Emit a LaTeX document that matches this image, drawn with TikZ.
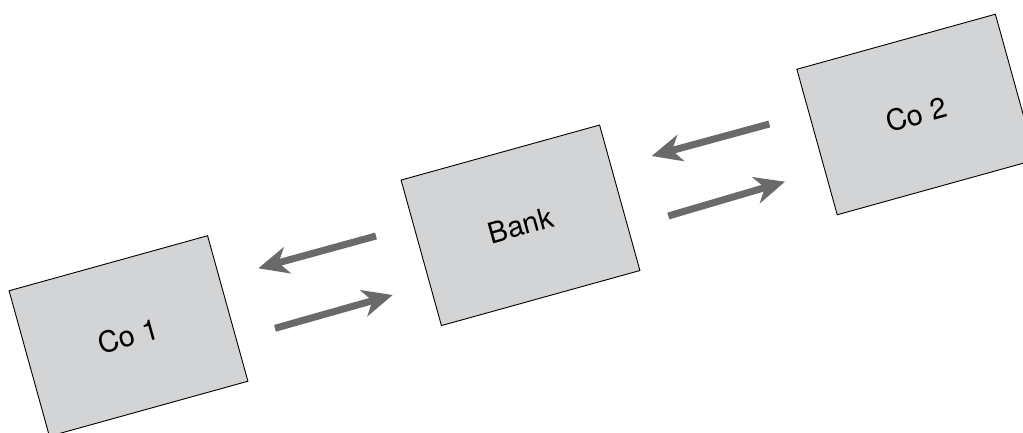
\documentclass[tikz,border=0pt]{standalone}
\usepackage{fontspec}
\setmainfont{TeX Gyre Heros}
\usetikzlibrary{arrows.meta}
\definecolor{boxfill}{RGB}{211,212,214}
\definecolor{arrowgray}{RGB}{106,106,106}
\tikzset{
  party/.style={draw=black, line width=0.9pt, fill=boxfill, rectangle,
    minimum width=206pt, minimum height=151pt, rotate=15.5,
    font=\fontsize{29pt}{33pt}\selectfont, inner sep=0pt},
  flow/.style={draw=arrowgray, line width=7pt,
    -{Stealth[length=30pt, width=27pt, inset=9pt, fill=arrowgray]}}
}
\begin{document}
\begin{tikzpicture}[x=1pt, y=-1pt]
  \useasboundingbox (0,0) rectangle (1023,433);
  \node[party] (co1) at (128.5,336) {Co 1};
  \node[party] (bank) at (520.5,225.3) {Bank};
  \node[party] (co2) at (916.3,114.5) {Co 2};
  \coordinate (a1s) at (275,328.3);
  \coordinate (a1e) at (392.7,295);
  \coordinate (a2s) at (376,236);
  \coordinate (a2e) at (258.3,268.3);
  \coordinate (a3s) at (668.3,216);
  \coordinate (a3e) at (785,181.7);
  \coordinate (a4s) at (769.3,124);
  \coordinate (a4e) at (651.7,156);
  \draw[flow] (a1s) -- (a1e);
  \draw[flow] (a2s) -- (a2e);
  \draw[flow] (a3s) -- (a3e);
  \draw[flow] (a4s) -- (a4e);
\end{tikzpicture}
\end{document}
